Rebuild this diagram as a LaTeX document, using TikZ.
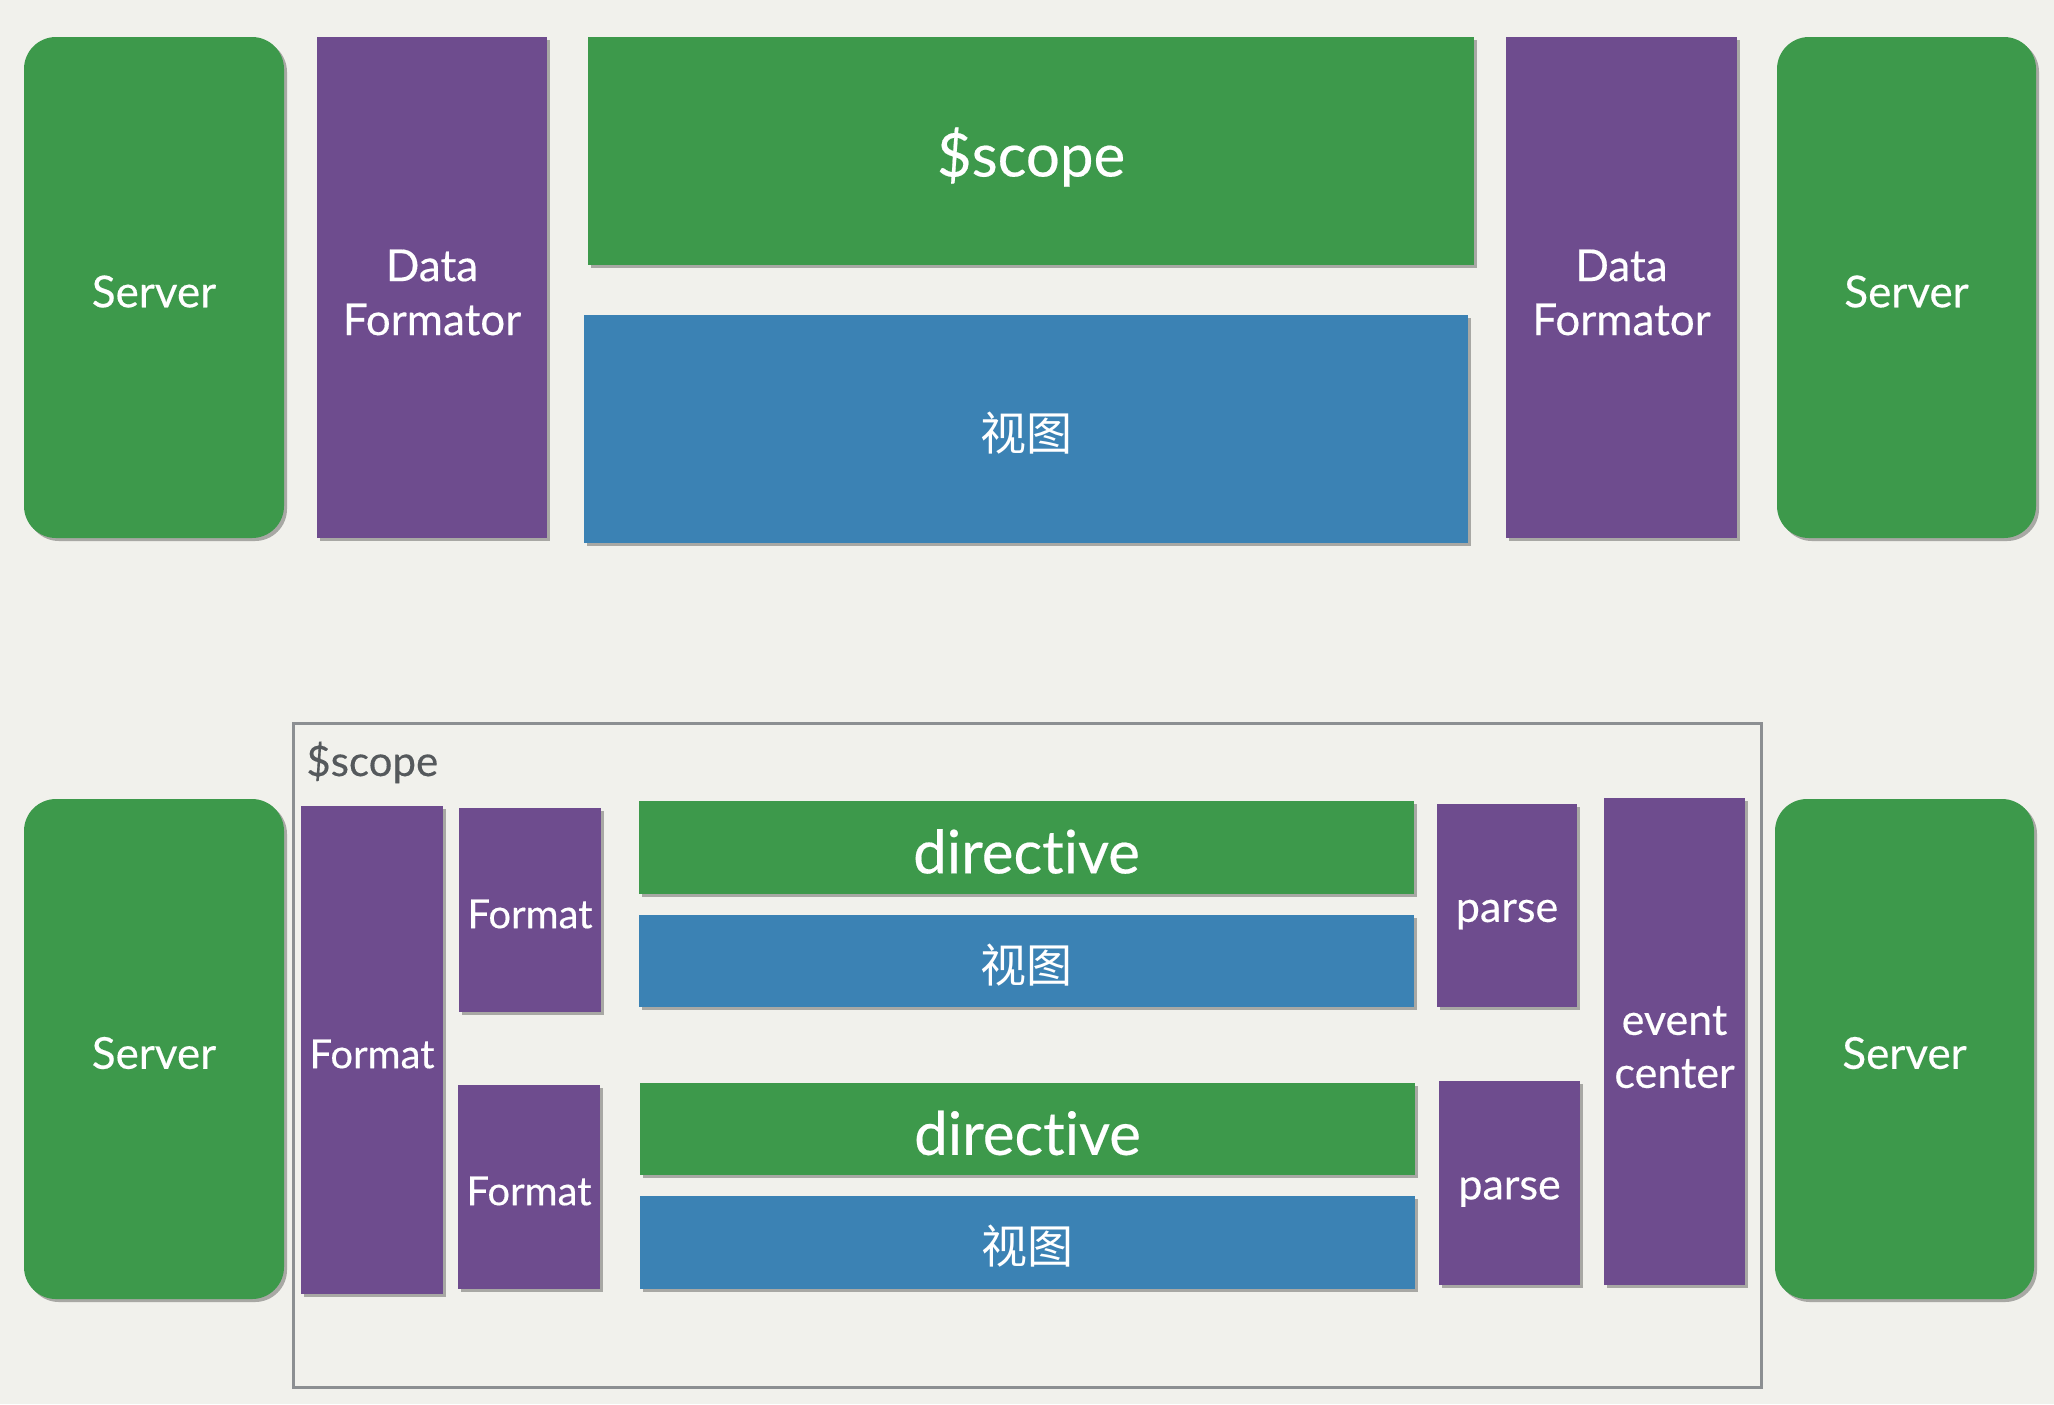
\documentclass[tikz,border=0pt]{standalone}
\usepackage{fontspec}
\setmainfont{Lato}[Ligatures={NoCommon}, FakeBold=0.35]
\newfontfamily\cjk{Noto Sans CJK SC}
\usetikzlibrary{shadows}
\definecolor{bg}{HTML}{F1F1EC}
\definecolor{grn}{HTML}{3D994B}
\definecolor{pur}{HTML}{6E4C8E}
\definecolor{blu}{HTML}{3B82B4}
\definecolor{frm}{HTML}{8C8F92}
\definecolor{lbl}{HTML}{55595C}
\tikzset{
  box/.style={inner sep=0pt, outer sep=0pt,
    drop shadow={shadow xshift=1.5pt, shadow yshift=-1.5pt, opacity=0.3, fill=black}},
  gbox/.style={box, fill=grn},
  pbox/.style={box, fill=pur},
  bbox/.style={box, fill=blu},
  srv/.style={box, fill=grn, rounded corners=16pt},
  frame/.style={draw=frm, line width=1.5pt, inner sep=0pt},
  txt/.style={inner sep=0pt, text=white, align=center, yshift=-2pt},
  srvf/.style={txt, font=\fontsize{22}{27}\selectfont},
  big/.style={txt, font=\fontsize{30}{36}\selectfont},
  mid/.style={txt, font=\fontsize{22}{27}\selectfont},
  sml/.style={txt, font=\fontsize{20}{26}\selectfont},
  prs/.style={txt, font=\fontsize{21.5}{26.5}\selectfont},
  cjkf/.style={txt, font=\cjk\fontsize{23}{28}\selectfont},
}
% \mybox{name}{box style}{x1}{y1}{x2}{y2}{text style}{text}
\newcommand\mybox[8]{%
  \pgfmathsetmacro\bw{(#5-#3)*0.5}%
  \pgfmathsetmacro\bh{(#6-#4)*0.5}%
  \node[#2, minimum width=\bw pt, minimum height=\bh pt] (#1) at ({(#3+#5)/2},{(#4+#6)/2}) {};
  \node[#7] (#1-t) at (#1.center) {#8};}
\begin{document}
\begin{tikzpicture}[x=0.5pt,y=-0.5pt]
\useasboundingbox[fill=bg] (0,0) rectangle (2054,1404);
% top row
\mybox{srvTL}{srv}{24}{37}{284}{538}{srvf}{Server}
\mybox{dfL}{pbox}{317}{37}{547}{538}{mid,yshift=-0.5pt}{Data\\Formator}
\mybox{scopeT}{gbox}{588}{37}{1474}{265}{big,yshift=-1pt}{\$scope}
\mybox{viewT}{bbox}{584}{315}{1468}{543}{cjkf}{视图}
\mybox{dfR}{pbox}{1506}{37}{1737}{538}{mid,yshift=-0.5pt}{Data\\Formator}
\mybox{srvTR}{srv}{1777}{37}{2036}{538}{srvf}{Server}
% bottom row
\node[frame, minimum width=734pt, minimum height=332pt] (frame) at (1027,1055) {};
\node[anchor=base west, inner sep=0pt, text=lbl, font=\fontsize{21}{25}\selectfont] (scopeL) at (306,776) {\$scope};
\mybox{srvBL}{srv}{24}{799}{284}{1299}{srvf}{Server}
\mybox{fmtBig}{pbox}{301}{806}{443}{1294}{sml}{Format}
\mybox{fmt1}{pbox}{459}{808}{601}{1012}{sml}{Format}
\mybox{fmt2}{pbox}{458}{1085}{600}{1289}{sml}{Format}
\mybox{dir1}{gbox}{639}{801}{1414}{894}{big}{directive}
\mybox{view1}{bbox}{639}{915}{1414}{1007}{cjkf}{视图}
\mybox{dir2}{gbox}{640}{1083}{1415}{1175}{big}{directive}
\mybox{view2}{bbox}{640}{1196}{1415}{1289}{cjkf}{视图}
\mybox{parse1}{pbox}{1437}{804}{1577}{1007}{prs,yshift=-2.5pt}{parse}
\mybox{parse2}{pbox}{1439}{1081}{1580}{1285}{prs,yshift=-2.5pt}{parse}
\mybox{evc}{pbox}{1604}{798}{1745}{1285}{prs,yshift=-0.8pt}{event\\center}
\mybox{srvBR}{srv}{1775}{799}{2034}{1299}{srvf}{Server}
\end{tikzpicture}
\end{document}
